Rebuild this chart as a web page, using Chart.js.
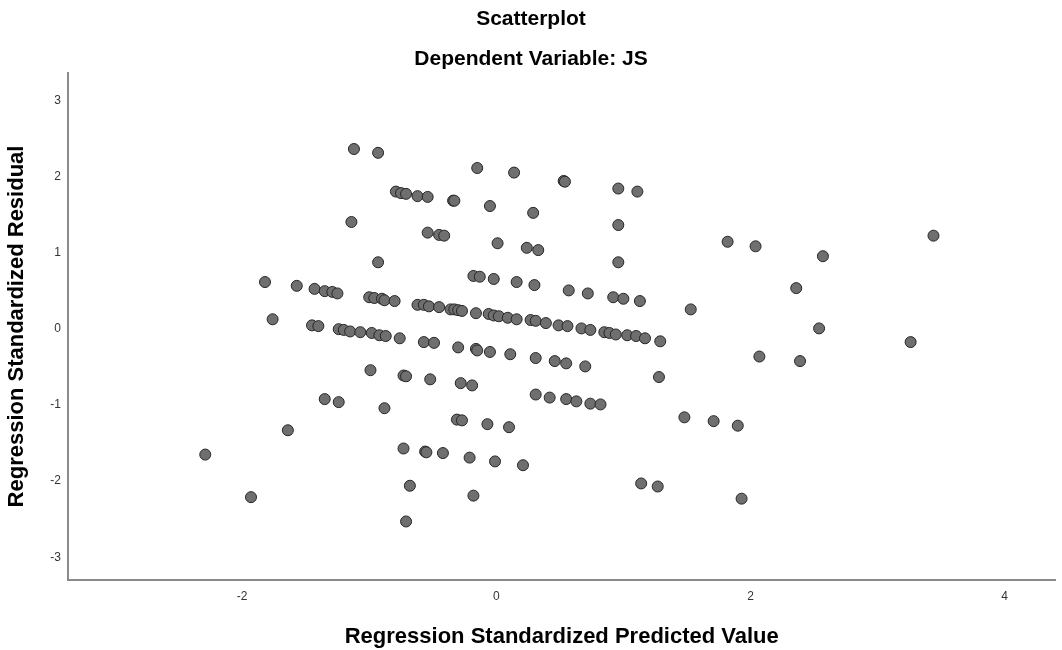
<!DOCTYPE html>
<html>
<head>
<meta charset="utf-8">
<script src="https://cdn.jsdelivr.net/npm/chart.js@4.4.1/dist/chart.umd.min.js"></script>
<style>
html,body{margin:0;padding:0;background:#ffffff;}
canvas{display:block;}
</style>
</head>
<body>
<canvas id="c" width="1062" height="650"></canvas>
<script>
const chartTitle = "Scatterplot";
const chartSubtitle = "Dependent Variable: JS";
const xAxisTitle = "Regression Standardized Predicted Value";
const yAxisTitle = "Regression Standardized Residual";
const xTicks = [-2, 0, 2, 4];
const yTicks = [-3, -2, -1, 0, 1, 2, 3];

const predicted = [
  -1.12, -0.93, -0.15, 0.14, 0.53, 0.54, 0.96, 1.11, -0.79, -0.75,
  -0.71, -0.62, -0.54, -0.34, -0.33, -0.05, 0.29, -1.14, 0.96, -0.54,
  -0.45, -0.41, 0.01, 0.24, 0.33, -0.93, 0.96, 1.82, 2.04, 2.57,
  3.44, 2.36, 1.53, -1.82, -1.57, -1.43, -1.35, -1.29, -1.25,
  -1.00, -0.96, -0.90, -0.88, -0.80,
  -0.18, -0.13, -0.02, 0.16, 0.30, 0.57, 0.72, 0.92, 1.00, 1.13,
  -0.62, -0.57, -0.53, -0.45, -0.36, -0.33, -0.30, -0.27, -0.16,
  -0.06, -0.02, 0.02, 0.09, 0.16, 0.27, 0.31, 0.39, 0.49, 0.56,
  0.67, 0.74, 0.85, 0.89, 0.94, 1.03, 1.10, 1.17, 1.29,
  2.54, 3.26, 2.07, 2.39,
  -1.76, -1.45, -1.40, -1.24, -1.20, -1.15, -1.07, -0.98, -0.92, -0.87, -0.76,
  -0.57, -0.49, -0.30, -0.16, -0.15, -0.05, 0.11, 0.31, 0.46, 0.55, 0.70, 1.28,
  -0.99, -0.73, -0.71, -0.52, -0.28, -0.19,
  -1.35, -1.24, -0.88,
  0.31, 0.42, 0.55, 0.63, 0.74, 0.82,
  -0.31, -0.27, -0.07, 0.10,
  1.48, 1.71, 1.90,
  -1.64,
  -0.73, -0.56, -0.55, -0.42, -0.21, -0.01, 0.21,
  -2.29,
  -0.68, -0.18, 1.14, 1.27, 1.93,
  -1.93, -0.71
];

const residual = [
  2.37, 2.32, 2.12, 2.06, 1.95, 1.94, 1.85, 1.81, 1.81, 1.79,
  1.78, 1.75, 1.74, 1.69, 1.69, 1.62, 1.53, 1.41, 1.37, 1.27,
  1.24, 1.23, 1.13, 1.07, 1.04, 0.88, 0.88, 1.15, 1.09, 0.96,
  1.23, 0.54, 0.26, 0.62, 0.57, 0.53, 0.50, 0.49, 0.47,
  0.42, 0.41, 0.40, 0.38, 0.37,
  0.70, 0.69, 0.66, 0.62, 0.58, 0.51, 0.47, 0.42, 0.40, 0.37,
  0.32, 0.32, 0.30, 0.29, 0.26, 0.26, 0.25, 0.24, 0.21,
  0.20, 0.18, 0.17, 0.15, 0.13, 0.12, 0.11, 0.08, 0.05, 0.04,
  0.01, -0.01, -0.04, -0.05, -0.07, -0.08, -0.09, -0.12, -0.16,
  0.01, -0.17, -0.36, -0.42,
  0.13, 0.05, 0.04, 0.00, -0.01, -0.03, -0.04, -0.05, -0.08, -0.09, -0.12,
  -0.17, -0.18, -0.24, -0.26, -0.28, -0.30, -0.33, -0.38, -0.42, -0.45, -0.49, -0.63,
  -0.54, -0.61, -0.62, -0.66, -0.71, -0.74,
  -0.92, -0.96, -1.04,
  -0.86, -0.90, -0.92, -0.95, -0.98, -0.99,
  -1.19, -1.20, -1.25, -1.29,
  -1.16, -1.21, -1.27,
  -1.33,
  -1.57, -1.61, -1.62, -1.63, -1.69, -1.74, -1.79,
  -1.65,
  -2.06, -2.19, -2.03, -2.07, -2.23,
  -2.21, -2.53
];

const points = predicted.map((x, i) => ({ x: x, y: residual[i] }));

Chart.defaults.font.family = "'Liberation Sans', Arial, sans-serif";

const titlePlugin = {
  id: 'fixedTitles',
  afterDraw(chart) {
    const ctx = chart.ctx;
    ctx.save();
    ctx.fillStyle = '#000000';
    ctx.textAlign = 'center';
    ctx.textBaseline = 'middle';
    ctx.font = "bold 21px 'Liberation Sans', Arial, sans-serif";
    ctx.fillText(chartTitle, 531, 19);
    ctx.fillText(chartSubtitle, 531, 59);
    ctx.restore();
  }
};

new Chart(document.getElementById('c'), {
  type: 'scatter',
  data: {
    datasets: [{
      data: points,
      backgroundColor: '#6f6f6f',
      borderColor: '#262626',
      borderWidth: 1,
      pointRadius: 5.5,
      pointHoverRadius: 5.5
    }]
  },
  options: {
    responsive: false,
    animation: false,
    events: [],
    layout: { padding: { top: 73, right: 2, left: 0, bottom: 0 } },
    plugins: {
      legend: { display: false },
      tooltip: { enabled: false },
      title: { display: false }
    },
    scales: {
      x: {
        type: 'linear',
        position: 'bottom',
        min: -3.37,
        max: 4.40,
        afterBuildTicks: s => { s.ticks = xTicks.map(v => ({ value: v })); },
        afterFit: s => { s.height = 70; },
        grid: { display: false, drawTicks: false },
        border: { display: true, color: '#8a8a8a', width: 2 },
        ticks: { color: '#333333', font: { size: 12 }, padding: 9, maxRotation: 0, autoSkip: false },
        title: { display: true, text: xAxisTitle, color: '#000000', font: { size: 22, weight: 'bold' }, padding: { top: 0, bottom: 0 } }
      },
      y: {
        type: 'linear',
        position: 'left',
        min: -3.30,
        max: 3.37,
        afterBuildTicks: s => { s.ticks = yTicks.map(v => ({ value: v })); },
        afterFit: s => { s.width = 68; },
        grid: { display: false, drawTicks: false },
        border: { display: true, color: '#8a8a8a', width: 2 },
        ticks: { color: '#333333', font: { size: 12 }, padding: 7, autoSkip: false },
        title: { display: true, text: yAxisTitle, color: '#000000', font: { size: 22, weight: 'bold' }, padding: { top: 4, bottom: 0 } }
      }
    }
  },
  plugins: [titlePlugin]
});
</script>
</body>
</html>
